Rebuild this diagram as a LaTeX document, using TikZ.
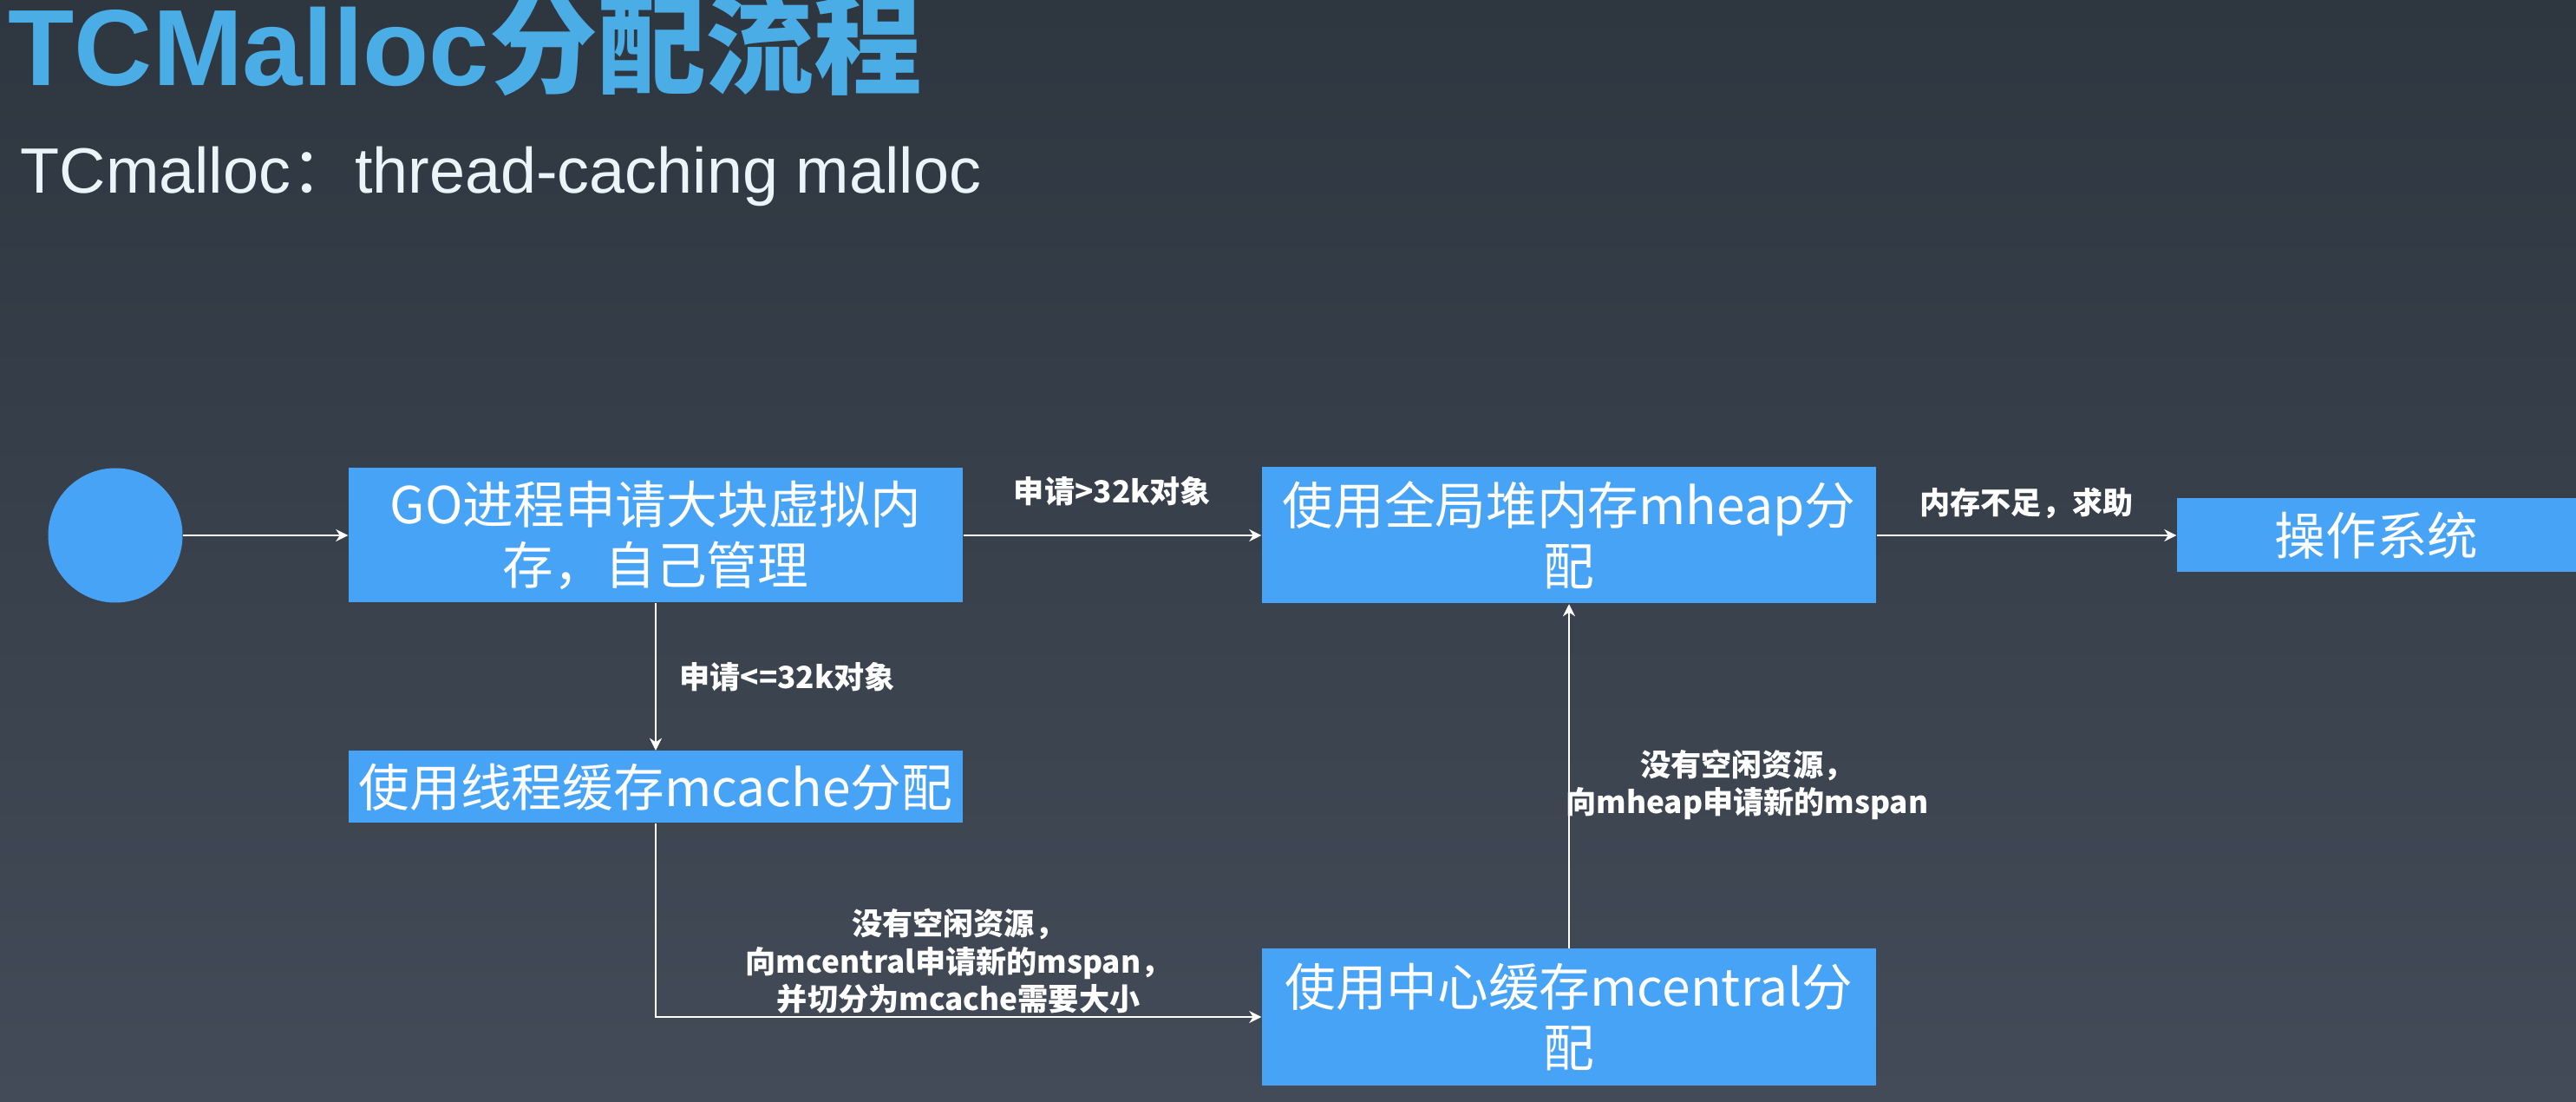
\documentclass[tikz,border=0pt]{standalone}
\usepackage{fontspec}
\setmainfont{Noto Sans CJK SC}
\newfontfamily\latinfont{Liberation Sans}
\newfontfamily\cjkfont{Noto Sans CJK SC}
\usetikzlibrary{arrows.meta}

\begin{document}
\begin{tikzpicture}[
  mybox/.style={fill=boxblue,text=white,inner sep=0,minimum width=7.08cm,align=center,font=\fontsize{16.7}{20}\selectfont},
  myarrow/.style={draw=white,line width=0.75pt,-{Stealth[length=4pt,width=4pt]}},
  mylabel/.style={text=white,inner sep=0,align=center,font=\bfseries\fontsize{10}{12.4}\selectfont}]
\definecolor{bgtop}{HTML}{2E3640}
\definecolor{bgbottom}{HTML}{424B57}
\definecolor{titleblue}{HTML}{4BADE6}
\definecolor{boxblue}{HTML}{47A3F5}
\definecolor{subwhite}{HTML}{EAF5FA}
\shade[top color=bgtop,bottom color=bgbottom] (0,0) rectangle (29.7,12.7);
\useasboundingbox (0,0) rectangle (29.7,12.7);

\node[anchor=base west,inner sep=0,text=titleblue,font=\bfseries\fontsize{35.5}{40}\selectfont] (title) at (0.09,11.71) {{\latinfont TCMalloc}分配流程};
\node[anchor=base west,inner sep=0,text=subwhite,font=\fontsize{21}{25}\selectfont] (subtitle) at (0.23,10.47) {\latinfont TCmalloc{\cjkfont ：}thread-caching malloc};

\node[circle,fill=boxblue,minimum size=1.55cm,inner sep=0] (start) at (1.33,6.53) {};
\node[mybox,minimum height=1.55cm] (golang) at (7.56,6.53) {GO进程申请大块虚拟内\\存，自己管理};
\node[mybox,minimum height=1.57cm] (mheap) at (18.09,6.53) {使用全局堆内存mheap分\\配};
\node[mybox,minimum width=4.6cm,minimum height=0.85cm] (os) at (27.40,6.53) {操作系统};
\node[mybox,minimum height=0.83cm] (mcache) at (7.56,3.63) {使用线程缓存mcache分配};
\node[mybox,minimum height=1.57cm] (mcentral) at (18.09,0.98) {使用中心缓存mcentral分\\配};

\draw[myarrow] (start) -- (golang);
\draw[myarrow] (golang) -- node[mylabel,above=0.33cm] {申请>32k对象} (mheap);
\draw[myarrow] (mheap) -- node[mylabel,above=0.18cm] {内存不足，求助} (os);
\draw[myarrow] (golang) -- node[mylabel,right=0.26cm] {申请<=32k对象} (mcache);
\draw[myarrow] (mcache) |- node[mylabel,pos=0.75,above=0.02cm] {没有空闲资源，\\向mcentral申请新的mspan，\\并切分为mcache需要大小} (mcentral);
\draw[myarrow] (mcentral) -- node[mylabel,right=-0.05cm,yshift=-0.1cm] {没有空闲资源，\\向mheap申请新的mspan} (mheap);
\end{tikzpicture}
\end{document}
